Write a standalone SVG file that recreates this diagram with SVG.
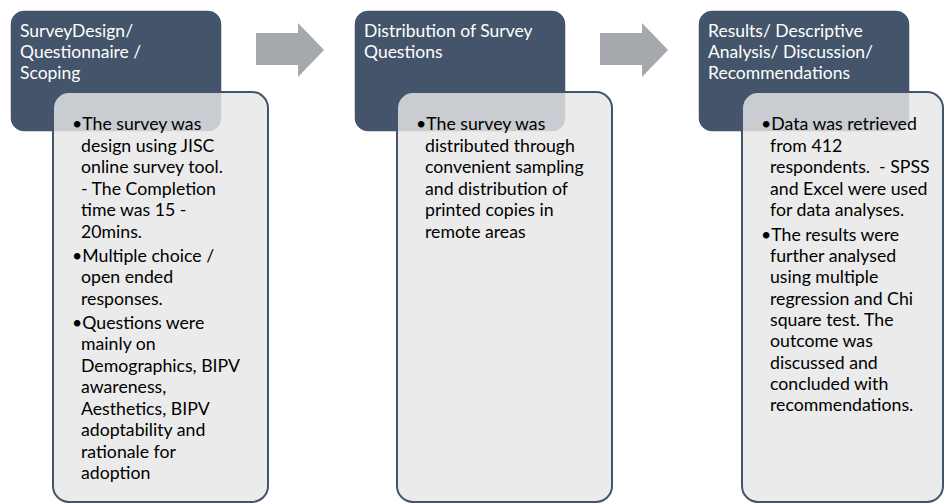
<svg xmlns="http://www.w3.org/2000/svg" width="945" height="504" viewBox="0 0 945 504">
<defs>
<style>
.hdr{fill:#44546a;stroke:#ffffff;stroke-width:1.5}
.body{fill:#e7e6e6;fill-opacity:0.82;stroke:#44546a;stroke-width:2}
.arrow{fill:#a5a8ad}
.ht{font-family:Lato,"Liberation Sans",sans-serif;font-size:17.5px;fill:#ffffff}
.bt{font-family:Lato,"Liberation Sans",sans-serif;font-size:17.7px;fill:#000000}
</style>
</defs>
<rect width="945" height="504" fill="#ffffff"/>
<g id="connectors">
<path class="arrow" d="M256,33 H298 V23 L324,50 L298,77 V65 H256 Z"/>
<path class="arrow" d="M600,33 H642 V23 L668,50 L642,77 V65 H600 Z"/>
</g>
<g id="step1">
<rect class="hdr" x="10" y="10" width="212" height="122" rx="14"/>
<text class="ht"><tspan x="20" y="37">SurveyDesign/</tspan><tspan x="20" y="58">Questionnaire /</tspan><tspan x="20" y="79">Scoping</tspan></text>
</g>
<g id="detail1">
<rect class="body" x="53" y="92" width="215" height="410" rx="16"/>
<text class="bt"><tspan x="72" y="130">•The survey was</tspan><tspan x="81" y="151.5">design using JISC</tspan><tspan x="81" y="173">online survey tool.</tspan><tspan x="81" y="194.5">- The Completion</tspan><tspan x="81" y="216">time was 15 -</tspan><tspan x="81" y="237.5">20mins.</tspan><tspan x="72" y="261.5">•Multiple choice /</tspan><tspan x="81" y="283">open ended</tspan><tspan x="81" y="304.5">responses.</tspan><tspan x="72" y="328.5">•Questions were</tspan><tspan x="81" y="350">mainly on</tspan><tspan x="81" y="371.5">Demographics, BIPV</tspan><tspan x="81" y="393">awareness,</tspan><tspan x="81" y="414.5">Aesthetics, BIPV</tspan><tspan x="81" y="436">adoptability and</tspan><tspan x="81" y="457.5">rationale for</tspan><tspan x="81" y="479">adoption</tspan></text>
</g>
<g id="step2">
<rect class="hdr" x="354" y="10" width="212" height="122" rx="14"/>
<text class="ht"><tspan x="364" y="37">Distribution of Survey</tspan><tspan x="364" y="58">Questions</tspan></text>
</g>
<g id="detail2">
<rect class="body" x="397" y="92" width="215" height="410" rx="16"/>
<text class="bt"><tspan x="416" y="130">•The survey was</tspan><tspan x="425" y="151.5">distributed through</tspan><tspan x="425" y="173">convenient sampling</tspan><tspan x="425" y="194.5">and distribution of</tspan><tspan x="425" y="216">printed copies in</tspan><tspan x="425" y="237.5">remote areas</tspan></text>
</g>
<g id="step3">
<rect class="hdr" x="698" y="10" width="212" height="122" rx="14"/>
<text class="ht"><tspan x="708" y="37">Results/ Descriptive</tspan><tspan x="708" y="58">Analysis/ Discussion/</tspan><tspan x="708" y="79">Recommendations</tspan></text>
</g>
<g id="detail3">
<rect class="body" x="742" y="92" width="201" height="410" rx="16"/>
<text class="bt"><tspan x="761" y="130">•Data was retrieved</tspan><tspan x="770" y="151.5">from 412</tspan><tspan x="770" y="173">respondents.&#160; - SPSS</tspan><tspan x="770" y="194.5">and Excel were used</tspan><tspan x="770" y="216">for data analyses.</tspan><tspan x="761" y="241">•The results were</tspan><tspan x="770" y="262">further analysed</tspan><tspan x="770" y="283.3">using multiple</tspan><tspan x="770" y="304.6">regression and Chi</tspan><tspan x="770" y="325.9">square test. The</tspan><tspan x="770" y="347.2">outcome was</tspan><tspan x="770" y="368.5">discussed and</tspan><tspan x="770" y="389.8">concluded with</tspan><tspan x="770" y="411.1">recommendations.</tspan></text>
</g>
</svg>
